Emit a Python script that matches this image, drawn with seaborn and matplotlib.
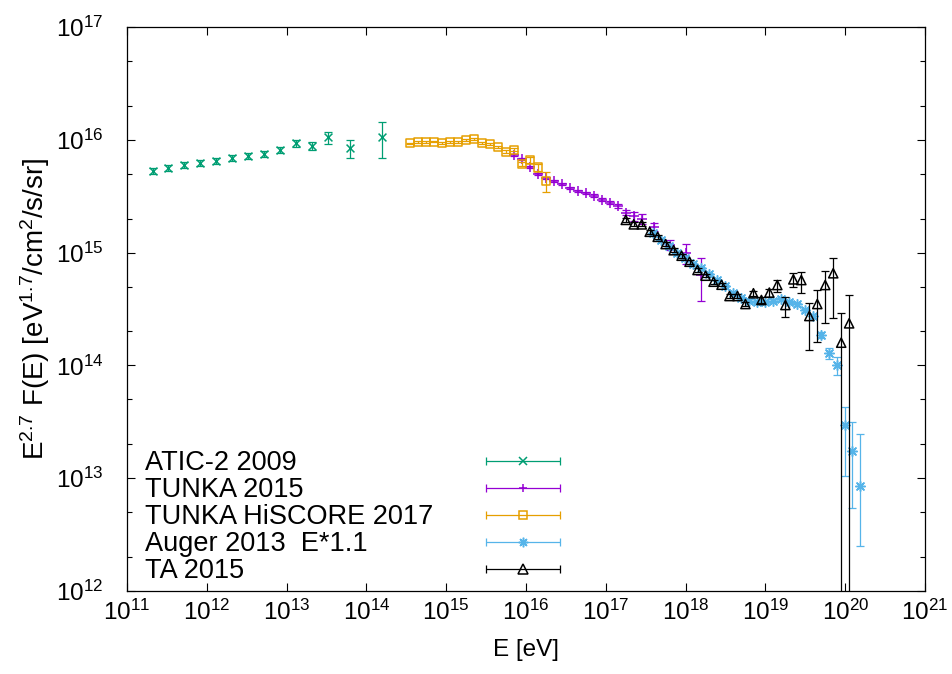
import numpy as np
import pandas as pd
import matplotlib
matplotlib.use("Agg")
import matplotlib.pyplot as plt
import seaborn as sns
from matplotlib.lines import Line2D
from matplotlib.collections import LineCollection
from matplotlib.container import ErrorbarContainer
from matplotlib.legend_handler import HandlerErrorbar
from matplotlib.ticker import LogLocator, NullLocator, NullFormatter

# ---------------- data: energy [eV], E^2.7 F(E) [eV^1.7/cm^2/s/sr] ----------------
atic_E = [2.09e11, 3.31e11, 5.25e11, 8.32e11, 1.32e12, 2.09e12, 3.31e12, 5.25e12,
          8.32e12, 1.32e13, 2.09e13, 3.31e13, 6.31e13, 1.58e14]
atic_F = [5.28e15, 5.62e15, 5.94e15, 6.19e15, 6.53e15, 6.86e15, 7.18e15, 7.48e15,
          8.13e15, 9.31e15, 8.81e15, 1.05e16, 8.41e15, 1.06e16]
atic_err = [0.33e15, 0.35e15, 0.37e15, 0.39e15, 0.41e15, 0.43e15, 0.45e15, 0.47e15,
            0.55e15, 0.70e15, 0.75e15, 1.25e15, 1.55e15, 3.70e15]

tunka_E = [7.08e15, 8.91e15, 1.12e16, 1.41e16, 1.78e16, 2.24e16, 2.82e16, 3.55e16,
           4.47e16, 5.62e16, 7.08e16, 8.91e16, 1.12e17, 1.41e17, 1.78e17, 2.24e17,
           2.82e17, 3.98e17, 6.31e17, 1.00e18, 1.58e18]
tunka_F = [7.33e15, 6.71e15, 5.70e15, 4.94e15, 4.56e15, 4.32e15, 4.06e15, 3.72e15,
           3.52e15, 3.36e15, 3.20e15, 2.95e15, 2.77e15, 2.59e15, 2.26e15, 2.09e15,
           2.00e15, 1.70e15, 1.17e15, 1.00e15, 6.30e14]
tunka_err = [0.15e15, 0.13e15, 0.11e15, 0.10e15, 0.09e15, 0.09e15, 0.08e15, 0.08e15,
             0.08e15, 0.08e15, 0.08e15, 0.08e15, 0.09e15, 0.10e15, 0.12e15, 0.20e15,
             0.20e15, 0.14e15, 0.12e15, 0.20e15, 0.26e15]

hiscore_E = [3.55e14, 4.47e14, 5.62e14, 7.08e14, 8.91e14, 1.12e15, 1.41e15, 1.78e15,
             2.24e15, 2.82e15, 3.55e15, 4.47e15, 5.62e15, 7.08e15, 8.91e15, 1.12e16,
             1.41e16, 1.78e16]
hiscore_F = [9.31e15, 9.51e15, 9.51e15, 9.62e15, 9.42e15, 9.55e15, 9.55e15, 9.91e15,
             1.016e16, 9.31e15, 9.18e15, 8.59e15, 7.83e15, 8.13e15, 6.10e15, 6.62e15,
             5.70e15, 4.32e15]
hiscore_err = [0.15e15, 0.15e15, 0.15e15, 0.15e15, 0.15e15, 0.15e15, 0.15e15, 0.16e15,
               0.17e15, 0.17e15, 0.18e15, 0.20e15, 0.22e15, 0.25e15, 0.30e15, 0.35e15,
               0.45e15, 0.87e15]

# Auger energies are scaled by 1.1 before plotting
auger_scale = 1.1
auger_E = [3.55e17, 4.47e17, 5.62e17, 7.08e17, 8.91e17, 1.12e18, 1.41e18, 1.78e18,
           2.24e18, 2.82e18, 3.55e18, 4.47e18, 5.62e18, 7.08e18, 8.91e18, 1.12e19,
           1.41e19, 1.78e19, 2.24e19, 2.82e19, 3.55e19, 4.47e19, 5.62e19, 7.08e19,
           8.91e19, 1.12e20, 1.41e20]
auger_F = [1.48e15, 1.29e15, 1.15e15, 1.00e15, 8.91e14, 7.94e14, 7.24e14, 6.46e14,
           5.75e14, 5.01e14, 4.42e14, 3.98e14, 3.76e14, 3.67e14, 3.67e14, 3.76e14,
           3.85e14, 3.63e14, 3.47e14, 3.09e14, 2.75e14, 1.86e14, 1.29e14, 1.00e14,
           2.95e13, 1.74e13, 8.50e12]
auger_lo = [0.04e15, 0.03e15, 0.03e15, 0.02e15, 0.02e14, 0.15e14, 0.14e14, 0.12e14,
            0.11e14, 0.10e14, 0.09e14, 0.08e14, 0.08e14, 0.08e14, 0.08e14, 0.08e14,
            0.09e14, 0.09e14, 0.09e14, 0.10e14, 0.10e14, 0.10e14, 0.14e14, 0.18e14,
            1.90e13, 1.20e13, 0.60e13]
auger_hi = [0.04e15, 0.03e15, 0.03e15, 0.02e15, 0.02e14, 0.15e14, 0.14e14, 0.12e14,
            0.11e14, 0.10e14, 0.09e14, 0.08e14, 0.08e14, 0.08e14, 0.08e14, 0.08e14,
            0.09e14, 0.09e14, 0.09e14, 0.10e14, 0.10e14, 0.10e14, 0.14e14, 0.18e14,
            1.29e13, 1.39e13, 1.60e13]

ta_E = [1.78e17, 2.24e17, 2.82e17, 3.55e17, 4.47e17, 5.62e17, 7.08e17, 8.91e17,
        1.12e18, 1.41e18, 1.78e18, 2.24e18, 2.82e18, 3.55e18, 4.47e18, 5.62e18,
        7.08e18, 8.91e18, 1.12e19, 1.41e19, 1.78e19, 2.24e19, 2.82e19, 3.55e19,
        4.47e19, 5.62e19, 7.08e19, 8.91e19, 1.12e20]
ta_F = [1.95e15, 1.78e15, 1.78e15, 1.53e15, 1.38e15, 1.19e15, 1.05e15, 9.38e14,
        8.30e14, 7.01e14, 6.24e14, 5.52e14, 5.19e14, 4.12e14, 4.12e14, 3.50e14,
        4.36e14, 3.80e14, 4.42e14, 5.16e14, 3.43e14, 5.79e14, 5.71e14, 2.74e14,
        3.50e14, 5.16e14, 6.56e14, 1.59e14, 2.36e14]
ta_lo = [0.08e15, 0.07e15, 0.07e15, 0.06e15, 0.05e15, 0.05e15, 0.04e15, 0.35e14,
         0.30e14, 0.25e14, 0.22e14, 0.20e14, 0.18e14, 0.15e14, 0.16e14, 0.15e14,
         0.20e14, 0.20e14, 0.36e14, 0.66e14, 0.73e14, 0.80e14, 1.35e14, 1.37e14,
         1.88e14, 2.80e14, 3.94e14, 1.59e14, 2.36e14]
ta_hi = [0.08e15, 0.07e15, 0.07e15, 0.06e15, 0.05e15, 0.05e15, 0.04e15, 0.35e14,
         0.30e14, 0.25e14, 0.22e14, 0.20e14, 0.18e14, 0.15e14, 0.16e14, 0.15e14,
         0.20e14, 0.20e14, 0.31e14, 0.55e14, 0.63e14, 0.77e14, 1.07e14, 0.86e14,
         1.16e14, 1.71e14, 2.33e14, 1.31e14, 1.85e14]

labels = ["ATIC-2 2009", "TUNKA 2015", "TUNKA HiSCORE 2017",
          "Auger 2013  E*1.1", "TA 2015"]
colors = ["#009e73", "#9400d3", "#e69f00", "#56b4e9", "#000000"]

# ---------------- style ----------------
sns.set_theme(style="ticks")
plt.rcParams.update({
    "font.family": ["Liberation Sans", "DejaVu Sans"],
    "mathtext.default": "regular",
    "font.size": 17.5,
    "text.color": "black",
    "axes.labelcolor": "black",
    "axes.linewidth": 0.9,
    "axes.edgecolor": "black",
    "xtick.color": "black",
    "ytick.color": "black",
    "xtick.labelcolor": "black",
    "ytick.labelcolor": "black",
})

fig = plt.figure(figsize=(9.52, 6.74), dpi=100)
ax = fig.add_axes([127 / 952, 83 / 674, 798 / 952, 564 / 674])
ax.set_xscale("log")
ax.set_yscale("log")

CAP = 3.2
ELW = 0.9


def draw(E, F, lo, hi, color, marker, size, open_marker, z):
    E = np.asarray(E, float)
    F = np.asarray(F, float)
    ax.errorbar(E, F, yerr=[lo, hi], fmt="none", ecolor=color, elinewidth=ELW,
                capsize=CAP, capthick=ELW, zorder=z)
    df = pd.DataFrame({"E": E, "F": F})
    kw = dict(data=df, x="E", y="F", ax=ax, marker=marker, s=size,
              linewidth=1.1, zorder=z + 0.5, legend=False)
    if open_marker:
        sns.scatterplot(facecolor="none", edgecolor=color, **kw)
    else:
        sns.scatterplot(color=color, **kw)


asterisk = (8, 2, 0)
draw(atic_E, atic_F, atic_err, atic_err, colors[0], "x", 32, False, 2)
draw(tunka_E, tunka_F, tunka_err, tunka_err, colors[1], "+", 42, False, 3)
draw(hiscore_E, hiscore_F, hiscore_err, hiscore_err, colors[2], "s", 36, True, 4)
draw(np.asarray(auger_E) * auger_scale, auger_F, auger_lo, auger_hi, colors[3],
     asterisk, 48, False, 5)
draw(ta_E, ta_F, ta_lo, ta_hi, colors[4], "^", 44, True, 6)

ax.set_xlim(1e11, 1e21)
ax.set_ylim(1e12, 1e17)
ax.xaxis.set_major_locator(LogLocator(base=10, numticks=20))
ax.xaxis.set_minor_locator(NullLocator())
ax.yaxis.set_major_locator(LogLocator(base=10, numticks=20))
ax.yaxis.set_minor_locator(LogLocator(base=10, subs=(2.0, 5.0), numticks=20))
ax.yaxis.set_minor_formatter(NullFormatter())
ax.tick_params(which="both", direction="in", top=True, right=True,
               labelsize=17.5, width=0.8, color="black", labelcolor="black")
ax.tick_params(which="major", length=6)
ax.tick_params(which="minor", length=3.5)
ax.tick_params(axis="x", pad=6)
ax.tick_params(axis="y", pad=17)
for s in ax.spines.values():
    s.set_color("black")
    s.set_linewidth(0.9)

ax.set_xlabel("E [eV]", fontsize=17.5, color="black")
ax.set_ylabel(r"E$^{2.7}$ F(E) [eV$^{1.7}$/cm$^{2}$/s/sr]", fontsize=20, color="black")
ax.xaxis.set_label_coords(0.5, -0.085)
ax.yaxis.set_label_coords(-0.094, 0.5)

# ---------------- key: labels on the left, error-bar samples on the right ----------------
markers = ["x", "+", "s", asterisk, "^"]
open_flags = [False, False, True, False, True]
msizes = [5.6, 6.4, 6.0, 6.9, 6.6]
proxies = []
for c, m, o, ms in zip(colors, markers, open_flags, msizes):
    data_line = Line2D([], [], linestyle="none", marker=m, markersize=ms,
                       color=c, markerfacecolor="none" if o else c,
                       markeredgecolor=c, markeredgewidth=1.1)
    cap = Line2D([], [], linestyle="none", marker="|", markersize=2 * CAP,
                 color=c, markeredgewidth=ELW)
    bar = LineCollection([], colors=c, linewidths=ELW)
    proxies.append(ErrorbarContainer((data_line, (cap,), (bar,)),
                                     has_xerr=True, has_yerr=False))

fs = 19.5
lsp = 0.04
top_y = (591 - 450.0) / 564
blank = [Line2D([], [], linestyle="none") for _ in labels]
leg_text = ax.legend(blank, labels, loc="upper left",
                     bbox_to_anchor=((145 - 127) / 798, top_y),
                     frameon=False, borderpad=0, borderaxespad=0,
                     handlelength=0, handletextpad=0, labelspacing=lsp,
                     fontsize=fs, labelcolor="black")
ax.add_artist(leg_text)

hl_pts = 74 / (100 / 72)  # sample width in points
ax.legend(proxies, [""] * len(labels), loc="upper left",
          bbox_to_anchor=((486 - 127) / 798, top_y),
          frameon=False, borderpad=0, borderaxespad=0,
          handlelength=hl_pts / fs, handletextpad=0, labelspacing=lsp,
          fontsize=fs,
          handler_map={ErrorbarContainer: HandlerErrorbar(xerr_size=hl_pts / 2 / fs)})

fig.savefig("out.png", dpi=100)
